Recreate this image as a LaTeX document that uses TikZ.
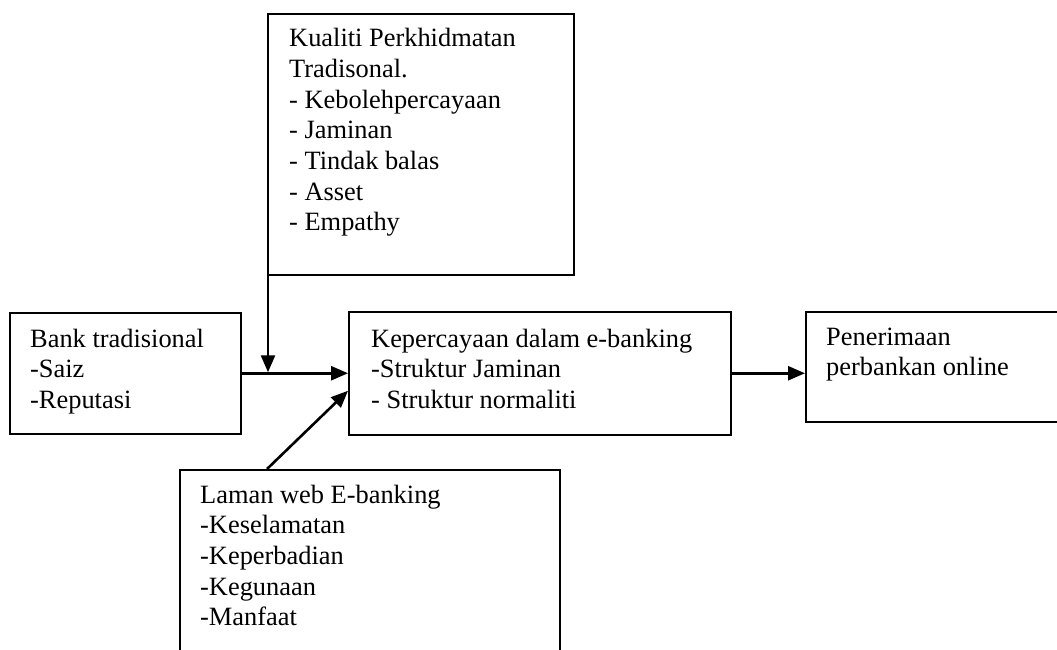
\documentclass[tikz,border=0pt]{standalone}
\usepackage{fontspec}
\setmainfont{Liberation Serif}
\usetikzlibrary{arrows.meta,calc}
\begin{document}
\begin{tikzpicture}[x=1pt,y=-1pt,
  box/.style={draw, line width=1.5pt, inner sep=0pt, anchor=north west},
  txt/.style={anchor=base west, inner sep=0pt, font=\fontsize{26.4}{30.7}\selectfont},
  arr/.style={line width=2.6pt, -{Triangle[length=17pt,width=14pt]}}]
\useasboundingbox (0,0) rectangle (1057,649);
% boxes
\node[box, minimum width=306pt, minimum height=261pt] (top) at (267,13) {};
\node[box, minimum width=231pt, minimum height=121pt] (left) at (9,312) {};
\node[box, minimum width=382pt, minimum height=123pt] (mid) at (348,311) {};
\node[box, minimum width=265pt, minimum height=110pt] (right) at (805,311) {};
\node[box, minimum width=380pt, minimum height=200pt] (bot) at (179,469) {};
% texts
\node[txt] (toptext) at (289,46.7) {\begin{tabular}[t]{@{}l@{}}Kualiti Perkhidmatan\\ Tradisonal.\\ - Kebolehpercayaan\\ - Jaminan\\ - Tindak balas\\ - Asset\\ - Empathy\end{tabular}};
\node[txt] (lefttext) at (30,347) {\begin{tabular}[t]{@{}l@{}}Bank tradisional\\ -Saiz\\ -Reputasi\end{tabular}};
\node[txt] (midtext) at (371,347) {\begin{tabular}[t]{@{}l@{}}Kepercayaan dalam e-banking\\ -Struktur Jaminan\\ - Struktur normaliti\end{tabular}};
\node[txt] (righttext) at (826,345) {\begin{tabular}[t]{@{}l@{}}Penerimaan\\ perbankan online\end{tabular}};
\node[txt] (bottext) at (200,503) {\begin{tabular}[t]{@{}l@{}}Laman web E-banking\\ -Keselamatan\\ -Keperbadian\\ -Kegunaan\\ -Manfaat\end{tabular}};
% connectors
\coordinate (vstart) at ($(top.west)+(1,0)$);
\coordinate (junc) at (vstart |- left.east);
\draw[line width=2.6pt] (left.east) -- (junc);
\draw[arr] (vstart) -- ($(junc)+(0,-1)$);
\draw[arr] (junc) -- (mid.west);
\coordinate (dstart) at ($(bot.north west)+(88,0)$);
\coordinate (dend) at ($(mid.west)+(0,17.5)$);
\draw[arr] (dstart) -- (dend);
\draw[arr] (mid.east) -- (mid.east -| right.west);
\end{tikzpicture}
\end{document}
